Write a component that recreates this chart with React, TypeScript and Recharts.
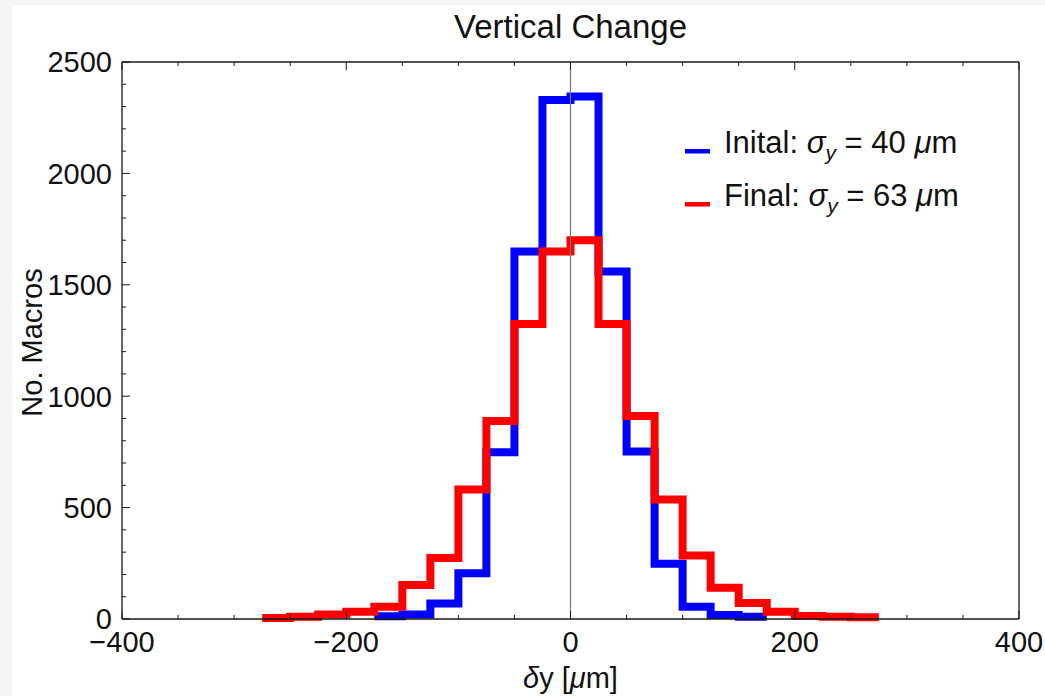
import { Legend, Line, LineChart, ReferenceLine, XAxis, YAxis } from "recharts";

// Arial-metric font, closest to the Mathematica export
const FONT = "'Liberation Sans', Arial, sans-serif";
const FRAME = "#1a1a1a";
const TEXT = "#111";

// bin edges in µm (25 µm bins), counts per bin
const BIN_EDGES = [
  -275, -250, -225, -200, -175, -150, -125, -100, -75, -50, -25, 0, 25, 50,
  75, 100, 125, 150, 175, 200, 225, 250, 275,
];
const INITIAL_COUNTS: (number | null)[] = [
  null, null, null, null, 12, 20, 70, 205, 748, 1650, 2330, 2345, 1560, 752,
  248, 55, 18, 10, null, null, null, null,
];
const FINAL_COUNTS: (number | null)[] = [
  5, 10, 20, 32, 55, 153, 274, 581, 889, 1324, 1650, 1700, 1324, 911, 536,
  285, 140, 72, 32, 14, 10, 8,
];

const X_TICKS = [
  -400, -350, -300, -250, -200, -150, -100, -50, 0, 50, 100, 150, 200, 250,
  300, 350, 400,
];
const Y_TICKS = [
  0, 100, 200, 300, 400, 500, 600, 700, 800, 900, 1000, 1100, 1200, 1300,
  1400, 1500, 1600, 1700, 1800, 1900, 2000, 2100, 2200, 2300, 2400, 2500,
];

const SERIES = [
  { key: "initial", label: "Inital:", sigma: 40, color: "#0000ff" },
  { key: "final", label: "Final:", sigma: 63, color: "#ff0000" },
];

// stepAfter needs a closing point at the right edge of the last filled bin
const rows = BIN_EDGES.map((x, i) => ({
  x,
  initial: INITIAL_COUNTS[i] ?? INITIAL_COUNTS[i - 1] ?? null,
  final: FINAL_COUNTS[i] ?? FINAL_COUNTS[i - 1] ?? null,
}));

function fmt(v: number): string {
  return v < 0 ? `\u2212${-v}` : String(v);
}

// frame ticks point inward, like Mathematica's
function BottomTick({ x, y, payload }: any) {
  const v = payload.value;
  const major = v % 200 === 0;
  return (
    <g>
      <line x1={x} x2={x} y1={y} y2={y - (major ? 8 : 4)} stroke={FRAME} />
      {major && (
        <text x={x} y={y + 33} textAnchor="middle" fontFamily={FONT} fontSize={29} fill={TEXT}>
          {fmt(v)}
        </text>
      )}
    </g>
  );
}

function TopTick({ x, y, payload }: any) {
  const major = payload.value % 200 === 0;
  return <line x1={x} x2={x} y1={y} y2={y + (major ? 8 : 4)} stroke={FRAME} />;
}

function LeftTick({ x, y, payload }: any) {
  const v = payload.value;
  const major = v % 500 === 0;
  return (
    <g>
      <line x1={x} x2={x + (major ? 8 : 4)} y1={y} y2={y} stroke={FRAME} />
      {major && (
        <text x={x - 10} y={y} dy="0.36em" textAnchor="end" fontFamily={FONT} fontSize={29} fill={TEXT}>
          {v}
        </text>
      )}
    </g>
  );
}

function RightTick({ x, y, payload }: any) {
  const major = payload.value % 500 === 0;
  return <line x1={x} x2={x - (major ? 8 : 4)} y1={y} y2={y} stroke={FRAME} />;
}

function LegendBox() {
  return (
    <svg width={330} height={110}>
      {SERIES.map((s, i) => {
        const base = 35 + 53 * i;
        return (
          <g key={s.key}>
            <rect x={5} y={base - 4} width={25} height={4.5} fill={s.color} />
            <text x={44} y={base} fontFamily={FONT} fontSize={31} fill={TEXT}>
              {s.label} <tspan fontStyle="italic">σ</tspan>
              <tspan fontStyle="italic" fontSize={21} dy={7}>y</tspan>
              <tspan dy={-7}> = {s.sigma} </tspan>
              <tspan fontStyle="italic">μ</tspan>m
            </text>
          </g>
        );
      })}
    </svg>
  );
}

export default function App() {
  const axisLine = { stroke: FRAME, strokeWidth: 1.3 };
  return (
    <div style={{ position: "absolute", left: 0, top: 0, width: 1045, height: 696, background: "#f4f4f4" }}>
      <div style={{ position: "absolute", left: 12, top: 5, right: 0, bottom: 0, background: "#fff" }} />
      <div style={{ position: "absolute", left: 0, top: 0 }}>
        <LineChart width={1045} height={696} data={rows} margin={{ top: 52, right: 16, bottom: 0, left: 0 }}>
          <XAxis
            dataKey="x"
            type="number"
            domain={[-400, 400]}
            ticks={X_TICKS}
            interval={0}
            height={77}
            tickSize={0}
            tickMargin={0}
            tickLine={false}
            axisLine={axisLine}
            tick={<BottomTick />}
          />
          <XAxis
            xAxisId="top"
            orientation="top"
            dataKey="x"
            type="number"
            domain={[-400, 400]}
            ticks={X_TICKS}
            interval={0}
            height={10}
            tickSize={0}
            tickMargin={0}
            tickLine={false}
            axisLine={axisLine}
            tick={<TopTick />}
          />
          <YAxis
            type="number"
            domain={[0, 2500]}
            ticks={Y_TICKS}
            interval={0}
            width={122}
            tickSize={0}
            tickMargin={0}
            tickLine={false}
            axisLine={axisLine}
            tick={<LeftTick />}
          />
          <YAxis
            yAxisId="right"
            orientation="right"
            type="number"
            domain={[0, 2500]}
            ticks={Y_TICKS}
            interval={0}
            width={10}
            tickSize={0}
            tickMargin={0}
            tickLine={false}
            axisLine={axisLine}
            tick={<RightTick />}
          />
          {SERIES.map((s) => (
            <Line
              key={s.key}
              dataKey={s.key}
              type="stepAfter"
              stroke={s.color}
              strokeWidth={8}
              dot={false}
              activeDot={false}
              connectNulls={false}
              isAnimationActive={false}
            />
          ))}
          <ReferenceLine x={0} stroke="#777" strokeWidth={1.2} />
          <Legend
            layout="vertical"
            align="center"
            verticalAlign="middle"
            wrapperStyle={{ left: 680, top: 118, width: 330, height: 110 }}
            content={() => <LegendBox />}
          />
        </LineChart>
      </div>
      <svg
        width={1045}
        height={696}
        style={{ position: "absolute", left: 0, top: 0, pointerEvents: "none" }}
      >
        <text x={570.5} y={38} textAnchor="middle" fontFamily={FONT} fontSize={33} fill={TEXT}>
          Vertical Change
        </text>
        <text
          transform="translate(42,342.5) rotate(-90)"
          textAnchor="middle"
          fontFamily={FONT}
          fontSize={29}
          fill={TEXT}
        >
          No. Macros
        </text>
        <text x={570.5} y={688} textAnchor="middle" fontFamily={FONT} fontSize={29} fill={TEXT}>
          <tspan fontStyle="italic">δ</tspan>y [<tspan fontStyle="italic">μ</tspan>m]
        </text>
      </svg>
    </div>
  );
}
